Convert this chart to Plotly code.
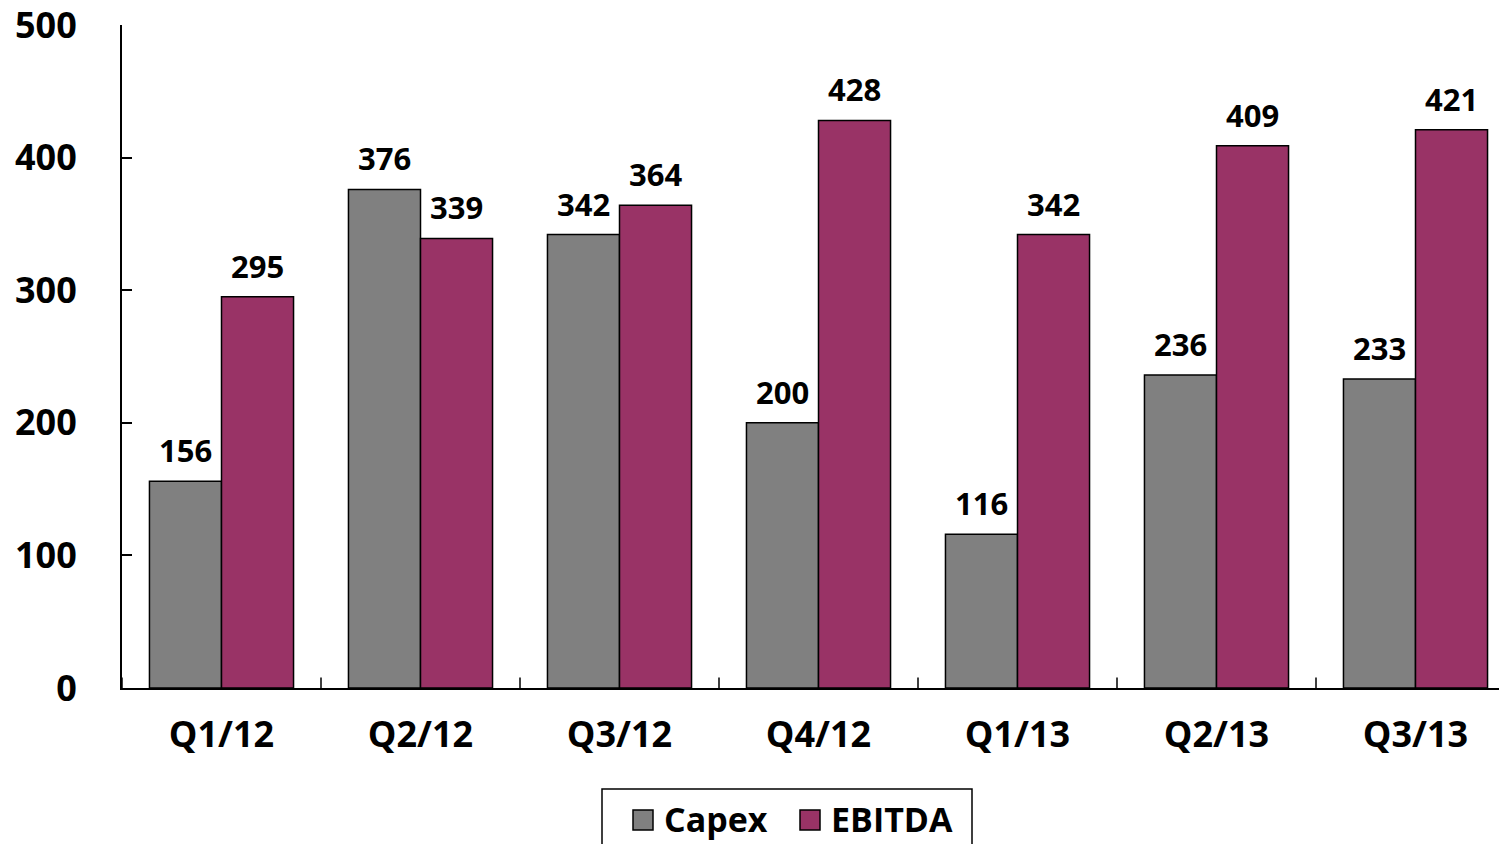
import plotly.graph_objects as go

categories = ["Q1/12", "Q2/12", "Q3/12", "Q4/12", "Q1/13", "Q2/13", "Q3/13"]
capex = [156, 376, 342, 200, 116, 236, 233]
ebitda = [295, 339, 364, 428, 342, 409, 421]
y_ticks = [0, 100, 200, 300, 400, 500]
series_names = ["Capex", "EBITDA"]
series_colors = ["#808080", "#993366"]

FONT = "Open Sans"

# page offset of the figure (browser body margin)
OFF = 8
W, H = 1507 - OFF, 844 - OFF
# plot area in page pixels: x 122..1507, y 25..688
L, T = 122 - OFF, 25 - OFF
R = 0
B = H - (688 - OFF)
PW, PH = W - L - R, H - T - B


def px_x(p):
    return (p - OFF - L) / PW


def px_y(p):
    return (H - B - (p - OFF)) / PH


fig = go.Figure()
for name, vals, col in zip(series_names, [capex, ebitda], series_colors):
    fig.add_trace(go.Bar(
        x=categories, y=vals, name=name,
        marker=dict(color=col, line=dict(color="black", width=1.5)),
        showlegend=False,
    ))

# data labels drawn from the arrays, offset to each bar of the group
for vals, shift in [(capex, -36), (ebitda, 36)]:
    for c, v in zip(categories, vals):
        fig.add_annotation(
            x=c, y=v, xref="x", yref="y", text=str(v), showarrow=False,
            xshift=shift, yshift=31, yanchor="middle",
            font=dict(family=FONT, size=31, color="black", weight="bold"),
        )

# custom legend matching the reference styling
fig.add_shape(type="rect", xref="paper", yref="paper",
              x0=px_x(602), x1=px_x(972), y0=px_y(789), y1=px_y(870),
              line=dict(color="black", width=1.5), fillcolor="white", layer="above")
for name, col, sx, tx in [(series_names[0], series_colors[0], 633, 662),
                          (series_names[1], series_colors[1], 800, 829)]:
    fig.add_shape(type="rect", xref="paper", yref="paper",
                  x0=px_x(sx), x1=px_x(sx + 20), y0=px_y(830), y1=px_y(810),
                  line=dict(color="black", width=1.5), fillcolor=col, layer="above")
    fig.add_annotation(x=px_x(tx), y=px_y(819), xref="paper", yref="paper",
                       text=name, showarrow=False, xanchor="left", yanchor="middle",
                       font=dict(family=FONT, size=34, color="black", weight="bold"))

fig.update_layout(
    width=W, height=H,
    margin=dict(l=L, r=R, t=T, b=B, autoexpand=False),
    paper_bgcolor="white", plot_bgcolor="white",
    barmode="group", bargap=0.276, bargroupgap=0,
    font=dict(family=FONT, color="black"),
    showlegend=False,
    xaxis=dict(
        range=[-0.5, -0.5 + PW / 199.0], automargin=False,
        showline=True, linecolor="black", linewidth=2,
        ticks="", showgrid=False,
        tickfont=dict(family=FONT, size=36, color="black", weight="bold"),
        ticklabelstandoff=14,
    ),
    yaxis=dict(
        range=[0, 500], tickvals=y_ticks, automargin=False,
        showline=True, linecolor="black", linewidth=2,
        ticks="inside", ticklen=10, tickwidth=2, tickcolor="black",
        showgrid=False, zeroline=False,
        tickfont=dict(family=FONT, size=36, color="black", weight="bold"),
        ticklabelstandoff=36, ticklabeloverflow="allow",
    ),
)

# category boundary tick marks (inside, upward)
for i in range(len(categories)):
    fig.add_shape(type="line", xref="x", yref="paper",
                  x0=i - 0.5, x1=i - 0.5, y0=0, y1=0.016,
                  line=dict(color="black", width=1.5))

fig.write_html("out.html")
